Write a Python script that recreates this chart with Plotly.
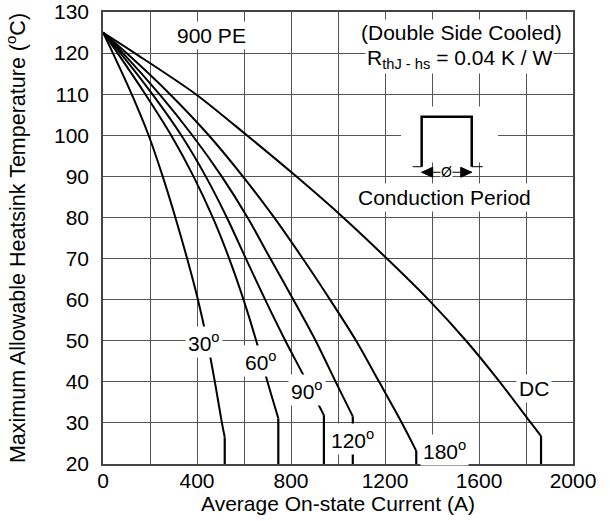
import plotly.graph_objects as go

# ---- data ----
cur_30 = [0, 42, 122, 194, 254, 308, 358, 404, 443, 476, 506, 518, 518]
tmp_30 = [125, 120, 110, 100, 90, 80, 70, 60, 50, 40, 30, 26.5, 20]

cur_60 = [0, 62, 180, 290, 385, 467, 537, 598, 652, 700, 746, 746]
tmp_60 = [125, 120, 110, 100, 90, 80, 70, 60, 50, 40, 31.1, 20]

cur_90 = [0, 74, 210, 333, 437, 527, 608, 690, 776, 852, 910, 940, 940]
tmp_90 = [125, 120, 110, 100, 90, 80, 70, 60, 50, 41.7, 35.2, 31.9, 20]

cur_120 = [0, 85, 240, 380, 505, 615, 712, 810, 905, 990, 1063, 1063]
tmp_120 = [125, 120, 110, 100, 90, 80, 70, 60, 50, 40, 31.6, 20]

cur_180 = [0, 100, 285, 450, 595, 728, 850, 966, 1077, 1175, 1272, 1333, 1333]
tmp_180 = [125, 120, 110, 100, 90, 80, 70, 60, 50, 40, 30, 23.2, 20]

cur_dc = [0, 135, 395, 612, 822, 1022, 1208, 1385, 1545, 1688, 1821, 1864, 1864]
tmp_dc = [125, 120, 110, 100, 90, 80, 70, 60, 50, 40, 30, 26.8, 20]

series_names = ["30", "60", "90", "120", "180", "DC"]
label_x = [430, 672, 870, 1063, 1454, 1834]
label_y = [49.7, 45, 38, 26, 23.5, 38.4]

x_tickvals = [0, 400, 800, 1200, 1600, 2000]
x_minor_grid = [200, 600, 1000, 1400, 1800]
y_tickvals = [20, 30, 40, 50, 60, 70, 80, 90, 100, 110, 120, 130]

FONT = "Liberation Sans, Arial, sans-serif"
FS = 21

fig = go.Figure()
for xs, ys in [(cur_30, tmp_30), (cur_60, tmp_60), (cur_90, tmp_90),
               (cur_120, tmp_120), (cur_180, tmp_180), (cur_dc, tmp_dc)]:
    # smooth derating curve
    fig.add_trace(go.Scatter(x=xs[:-1], y=ys[:-1], mode="lines",
                             line=dict(color="black", width=2, shape="spline",
                                       smoothing=0.8),
                             showlegend=False, hoverinfo="skip"))
    # vertical drop at the current limit
    fig.add_trace(go.Scatter(x=xs[-2:], y=ys[-2:], mode="lines",
                             line=dict(color="black", width=2.2),
                             showlegend=False, hoverinfo="skip"))

annotations = []
for name, lx, ly in zip(series_names, label_x, label_y):
    txt = name if name == "DC" else name + "<sup>o</sup>"
    annotations.append(dict(x=lx, y=ly, xref="x", yref="y", text=txt,
                            showarrow=False, bgcolor="white", borderpad=2,
                            font=dict(family=FONT, size=FS, color="black")))

annotations += [
    dict(x=462, y=124.2, xref="x", yref="y", text="900 PE", showarrow=False,
         bgcolor="white", borderpad=2, font=dict(family=FONT, size=FS, color="black")),
    dict(x=1526, y=124.9, xref="x", yref="y", text="(Double Side Cooled)",
         showarrow=False, bgcolor="white", borderpad=1,
         font=dict(family=FONT, size=FS, color="black")),
    dict(x=1517, y=118.6, xref="x", yref="y",
         text="R<sub>thJ - hs</sub> = 0.04 K / W", showarrow=False,
         bgcolor="white", borderpad=1, font=dict(family=FONT, size=FS, color="black")),
    dict(x=1453, y=84.9, xref="x", yref="y", text="Conduction Period",
         showarrow=False, bgcolor="white", borderpad=2,
         font=dict(family=FONT, size=FS, color="black")),
    dict(x=1461, y=91, xref="x", yref="y", text="\u00d8", showarrow=False,
         bgcolor="white", borderpad=0,
         font=dict(family=FONT, size=14, color="black")),
]

shapes = [
    # white patch behind the conduction-period sketch
    dict(type="rect", xref="x", yref="y", x0=1268, x1=1681, y0=93.4, y1=107,
         fillcolor="white", line=dict(width=0), layer="between"),
    # pulse
    dict(type="path", xref="x", yref="y",
         path="M 1356,92.35 L 1356,104.5 L 1569,104.5 L 1569,92.35",
         line=dict(color="black", width=2.5), layer="above"),
    dict(type="line", xref="x", yref="y", x0=1318, x1=1356, y0=92.35, y1=92.35,
         line=dict(color="black", width=1)),
    dict(type="line", xref="x", yref="y", x0=1569, x1=1616, y0=92.35, y1=92.35,
         line=dict(color="black", width=1)),
    # double arrow
    dict(type="line", xref="x", yref="y", x0=1356, x1=1569, y0=91, y1=91,
         line=dict(color="black", width=1.2)),
    dict(type="path", xref="x", yref="y", xsizemode="pixel", ysizemode="pixel",
         xanchor=1356, yanchor=91, path="M 0,0 L 11,5 L 11,-5 Z",
         fillcolor="black", line=dict(color="black", width=1)),
    dict(type="path", xref="x", yref="y", xsizemode="pixel", ysizemode="pixel",
         xanchor=1569, yanchor=91, path="M 0,0 L -11,5 L -11,-5 Z",
         fillcolor="black", line=dict(color="black", width=1)),
]

fig.update_layout(
    width=610, height=521,
    margin=dict(l=103, r=37, t=12, b=57, autoexpand=False),
    paper_bgcolor="white", plot_bgcolor="white",
    font=dict(family=FONT, size=FS, color="black"),
    annotations=annotations, shapes=shapes,
)
fig.update_xaxes(range=[0, 2000], tickvals=x_tickvals,
                 showgrid=True, gridcolor="#555", gridwidth=1,
                 minor=dict(tickvals=x_minor_grid, showgrid=True,
                            gridcolor="#555", gridwidth=1, ticks=""),
                 showline=True, linecolor="#444", linewidth=1.5, mirror=True,
                 zeroline=False, ticks="", ticklabelstandoff=-3,
                 tickfont=dict(family=FONT, size=FS, color="black"),
                 title=dict(text="Average On-state Current (A)", standoff=2,
                            font=dict(family=FONT, size=FS, color="black")),
                 automargin=False)
fig.update_yaxes(range=[20, 130], tickvals=y_tickvals,
                 showgrid=True, gridcolor="#555", gridwidth=1,
                 showline=True, linecolor="#444", linewidth=1.5, mirror=True,
                 zeroline=False, ticks="", ticklabelstandoff=8,
                 tickfont=dict(family=FONT, size=FS, color="black"),
                 title=dict(text="Maximum Allowable Heatsink Temperature (<sup>o</sup>C)",
                            standoff=22,
                            font=dict(family=FONT, size=FS + 0.5, color="black")),
                 automargin=False)

fig.write_html("out.html")
